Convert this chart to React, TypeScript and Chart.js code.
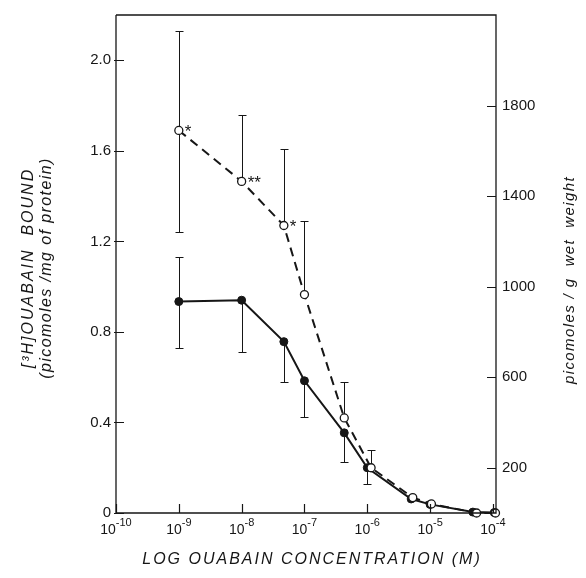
import React, { useEffect, useRef } from "react";
import { Chart, registerables } from "chart.js";

Chart.register(...registerables);

// ---- data ----
const openConc = [1e-9, 1e-8, 4.7e-8, 1e-7, 4.3e-7, 1.15e-6, 5.3e-6, 1.05e-5, 5.5e-5, 1.1e-4];
const openValues = [1.69, 1.465, 1.27, 0.965, 0.42, 0.2, 0.068, 0.04, 0.0, 0.0];
const openErrUp = [2.13, 1.76, 1.61, 1.29, 0.58, 0.28, null, null, null, null];
const openErrDown = [1.24, null, null, null, null, null, null, null, null, null];

const solidConc = [1e-9, 1e-8, 4.7e-8, 1e-7, 4.3e-7, 1e-6, 5e-6, 1e-5, 4.8e-5, 1.05e-4];
const solidValues = [0.934, 0.94, 0.757, 0.584, 0.354, 0.2, 0.062, 0.038, 0.004, 0.002];
const solidErrUp = [1.13, null, null, null, null, null, null, null, null, null];
const solidErrDown = [0.73, 0.71, 0.58, 0.425, 0.225, 0.13, null, null, null, null];

const significance = ["*", "**", "*", "", "", "", "", "", "", ""];

const leftTicks = [0, 0.4, 0.8, 1.2, 1.6, 2.0];
const rightTicks = [200, 600, 1000, 1400, 1800];
const xTickExponents = [-10, -9, -8, -7, -6, -5, -4];

const xTitle = "LOG OUABAIN CONCENTRATION (M)";
const leftTitle1 = "[\u00B3H]OUABAIN  BOUND";
const leftTitle2 = "(picomoles /mg of protein)";
const rightTitle = "picomoles / g  wet  weight";

const FONT = '"Liberation Sans", Arial, Helvetica, sans-serif';
const INK = "#161616";

const decorPlugin = {
  id: "decor",
  beforeDatasetsDraw(chart: any) {
    const ctx = chart.ctx;
    const x = chart.scales.x;
    const y = chart.scales.y;
    ctx.save();
    ctx.strokeStyle = INK;
    ctx.lineWidth = 1;
    const cap = 4;
    const bar = (conc: number[], vals: number[], ups: any[], downs: any[]) => {
      conc.forEach((c, i) => {
        const px = Math.round(x.getPixelForValue(c)) + 0.5;
        const py = y.getPixelForValue(vals[i]);
        [ups[i], downs[i]].forEach((e) => {
          if (e === null || e === undefined) return;
          const ey = Math.round(y.getPixelForValue(e)) + 0.5;
          ctx.beginPath();
          ctx.moveTo(px, py);
          ctx.lineTo(px, ey);
          ctx.moveTo(px - cap, ey);
          ctx.lineTo(px + cap, ey);
          ctx.stroke();
        });
      });
    };
    bar(openConc, openValues, openErrUp, openErrDown);
    bar(solidConc, solidValues, solidErrUp, solidErrDown);
    ctx.restore();
  },
  afterDatasetsDraw(chart: any) {
    const ctx = chart.ctx;
    const x = chart.scales.x;
    const y = chart.scales.y;
    ctx.save();
    ctx.fillStyle = INK;
    ctx.font = `17px ${FONT}`;
    ctx.textAlign = "left";
    ctx.textBaseline = "middle";
    significance.forEach((s, i) => {
      if (!s) return;
      const px = x.getPixelForValue(openConc[i]);
      const py = y.getPixelForValue(openValues[i]);
      ctx.fillText(s, px + 6, py + 2);
    });
    ctx.restore();
  },
  afterDraw(chart: any) {
    const ctx = chart.ctx;
    const a = chart.chartArea;
    const x = chart.scales.x;
    const y = chart.scales.y;
    const y2 = chart.scales.y2;
    ctx.save();
    ctx.strokeStyle = INK;
    ctx.lineWidth = 1.3;
    // frame
    ctx.beginPath();
    ctx.moveTo(a.left, a.top);
    ctx.lineTo(a.left, a.bottom);
    ctx.lineTo(a.right, a.bottom);
    ctx.lineTo(a.right, a.top);
    ctx.lineTo(a.left, a.top);
    ctx.stroke();
    // inward ticks
    ctx.lineWidth = 1.2;
    ctx.beginPath();
    leftTicks.forEach((v) => {
      const py = Math.round(y.getPixelForValue(v)) + 0.5;
      ctx.moveTo(a.left - 2, py);
      ctx.lineTo(a.left + 8, py);
    });
    rightTicks.forEach((v) => {
      const py = Math.round(y2.getPixelForValue(v)) + 0.5;
      ctx.moveTo(a.right, py);
      ctx.lineTo(a.right - 9, py);
    });
    xTickExponents.forEach((e) => {
      const px = Math.round(x.getPixelForValue(Math.pow(10, e))) + 0.5;
      ctx.moveTo(px, a.bottom);
      ctx.lineTo(px, a.bottom - 9);
    });
    ctx.stroke();

    // x tick labels with superscripts
    ctx.fillStyle = INK;
    ctx.textBaseline = "alphabetic";
    ctx.textAlign = "left";
    xTickExponents.forEach((e) => {
      const px = x.getPixelForValue(Math.pow(10, e));
      const base = "10";
      const exp = "-" + String(-e);
      ctx.font = `14px ${FONT}`;
      const wb = ctx.measureText(base).width;
      ctx.font = `11px ${FONT}`;
      const we = ctx.measureText(exp).width;
      const start = px - (wb + we) / 2;
      ctx.font = `14px ${FONT}`;
      ctx.fillText(base, start, 534);
      ctx.font = `11px ${FONT}`;
      ctx.fillText(exp, start + wb, 526);
    });

    // titles
    const c: any = ctx;
    ctx.textAlign = "center";
    ctx.textBaseline = "middle";
    ctx.font = `italic 16px ${FONT}`;
    c.letterSpacing = "2px";
    ctx.fillText(xTitle, 312, 560);

    ctx.save();
    ctx.translate(29, 268);
    ctx.rotate(-Math.PI / 2);
    ctx.font = `italic 16px ${FONT}`;
    c.letterSpacing = "2px";
    ctx.fillText(leftTitle1, 0, 0);
    c.letterSpacing = "1.4px";
    ctx.fillText(leftTitle2, 0, 18);
    ctx.restore();

    ctx.save();
    ctx.translate(570, 280);
    ctx.rotate(-Math.PI / 2);
    c.letterSpacing = "1.4px";
    ctx.font = `italic 15px ${FONT}`;
    ctx.fillText(rightTitle, 0, 0);
    ctx.restore();
    c.letterSpacing = "0px";
    ctx.restore();
  },
};

export default function App() {
  const ref = useRef<HTMLCanvasElement | null>(null);
  useEffect(() => {
    if (!ref.current) return;
    const chart = new Chart(ref.current, {
      type: "scatter",
      data: {
        datasets: [
          {
            label: "wet weight",
            data: openConc.map((c, i) => ({ x: c, y: openValues[i] })),
            showLine: true,
            clip: false,
            borderColor: INK,
            borderWidth: 2,
            borderDash: [9, 6],
            pointRadius: 4,
            pointBorderWidth: 1.3,
            pointBackgroundColor: "#ffffff",
            pointBorderColor: INK,
          },
          {
            label: "protein",
            data: solidConc.map((c, i) => ({ x: c, y: solidValues[i] })),
            showLine: true,
            clip: false,
            borderColor: INK,
            borderWidth: 2,
            pointRadius: 4,
            pointBorderWidth: 1,
            pointBackgroundColor: INK,
            pointBorderColor: INK,
          },
        ],
      },
      options: {
        animation: false,
        responsive: false,
        maintainAspectRatio: false,
        layout: { padding: { top: 15, left: 0, right: 0, bottom: 0 } },
        plugins: { legend: { display: false }, tooltip: { enabled: false } },
        scales: {
          x: {
            type: "logarithmic",
            position: "bottom",
            min: 1e-10,
            max: 1.12e-4,
            grid: { display: false, drawTicks: false },
            border: { display: false },
            ticks: { display: false },
            afterFit: (s: any) => {
              s.height = 65;
            },
          },
          y: {
            type: "linear",
            position: "left",
            min: 0,
            max: 2.2,
            grid: { display: false, drawTicks: false },
            border: { display: false },
            afterBuildTicks: (s: any) => {
              s.ticks = leftTicks.map((v) => ({ value: v }));
            },
            ticks: {
              padding: 5,
              color: INK,
              font: { size: 15, family: FONT },
              callback: (v: any) => (v === 0 ? "0" : Number(v).toFixed(1)),
            },
            afterFit: (s: any) => {
              s.width = 116;
            },
          },
          y2: {
            type: "linear",
            position: "right",
            min: 0,
            max: 2200,
            grid: { display: false, drawTicks: false },
            border: { display: false },
            afterBuildTicks: (s: any) => {
              s.ticks = rightTicks.map((v) => ({ value: v }));
            },
            ticks: {
              padding: 6,
              color: INK,
              font: { size: 15, family: FONT },
              callback: (v: any) => String(v),
            },
            afterFit: (s: any) => {
              s.width = 90;
            },
          },
        },
      },
      plugins: [decorPlugin],
    } as any);
    return () => chart.destroy();
  }, []);
  return (
    <div style={{ position: "fixed", left: 0, top: 0, width: 586, height: 578, background: "#fff" }}>
      <canvas ref={ref} width={586} height={578} style={{ width: 586, height: 578 }} />
    </div>
  );
}
